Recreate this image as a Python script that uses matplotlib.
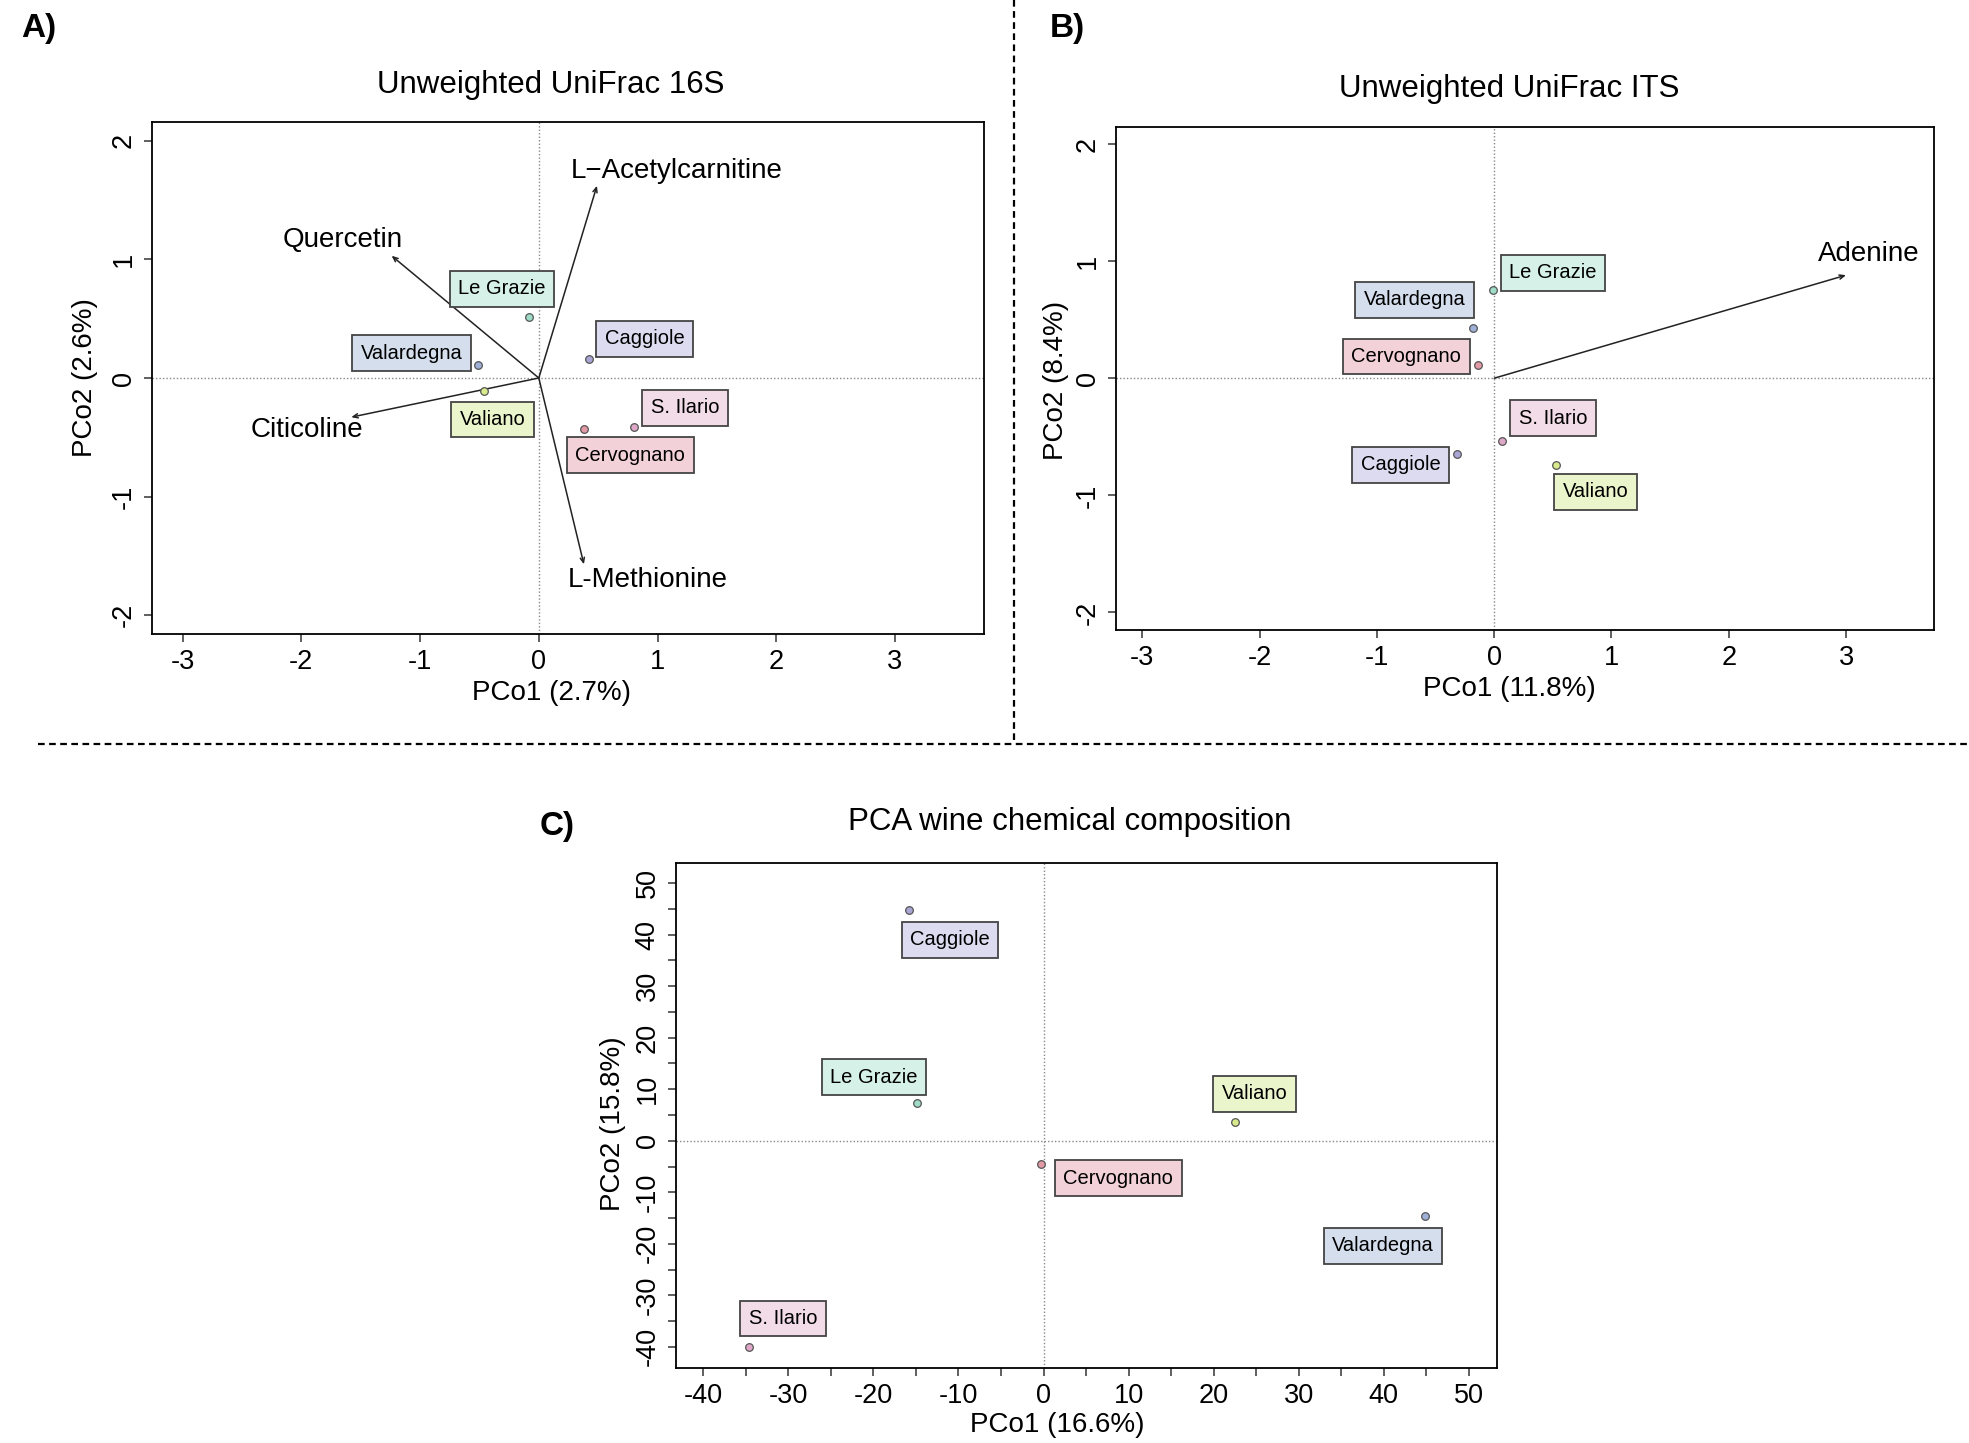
import matplotlib
matplotlib.use("Agg")
import matplotlib.pyplot as plt
from matplotlib.lines import Line2D

plt.rcParams['font.family'] = ['Liberation Sans', 'DejaVu Sans']
plt.rcParams['axes.unicode_minus'] = False

# ---------------- data ----------------
sites = ["Le Grazie", "Valardegna", "Valiano", "Caggiole", "S. Ilario", "Cervognano"]
box_colors = ["#d6f2e8", "#d4deed", "#eaf5cc", "#dddbf0", "#f2dce8", "#f2d2d8"]
point_colors = ["#9fdcc8", "#9fb0d8", "#d7ea8c", "#a9a6d6", "#e0a8c8", "#e29aa6"]

# Panel A: Unweighted UniFrac 16S
a_x = [-0.08, -0.51, -0.46, 0.42, 0.80, 0.38]
a_y = [0.51, 0.11, -0.11, 0.16, -0.415, -0.43]
a_vec_names = ["L\u2212Acetylcarnitine", "Quercetin", "Citicoline", "L-Methionine"]
a_vec_x = [0.49, -1.24, -1.58, 0.38]
a_vec_y = [1.62, 1.03, -0.33, -1.57]

# Panel B: Unweighted UniFrac ITS
b_x = [-0.01, -0.185, 0.53, -0.32, 0.07, -0.14]
b_y = [0.753, 0.43, -0.74, -0.65, -0.54, 0.113]
b_vec_names = ["Adenine"]
b_vec_x = [3.0]
b_vec_y = [0.88]

# Panel C: PCA wine chemical composition
c_x = [-14.9, 44.8, 22.5, -15.8, -34.6, -0.3]
c_y = [7.24, -14.6, 3.58, 44.75, -39.95, -4.56]

# ---------------- layout (label placement offsets) ----------------
a_lab = [(-0.31, 0.75), (-1.07, 0.21), (-0.39, -0.35), (0.89, 0.33), (1.23, -0.25), (0.77, -0.65)]
a_vec_lab = [(1.16, 1.74), (-1.65, 1.16), (-1.95, -0.435), (0.92, -1.70)]
b_lab = [(0.50, 0.90), (-0.68, 0.67), (0.865, -0.97), (-0.80, -0.74), (0.50, -0.34), (-0.75, 0.185)]
b_vec_lab = [(3.19, 1.06)]
c_lab = [(-19.9, 12.3), (39.9, -20.4), (24.8, 9.1), (-11.0, 39.0), (-30.6, -34.5), (8.8, -7.3)]

W, H = 1969, 1443
fig = plt.figure(figsize=(W / 100, H / 100), dpi=100)


def px_axes(l, t, r, b):
    return fig.add_axes([l / W, 1 - b / H, (r - l) / W, (b - t) / H])


def style(ax, xlim, ylim, xticks, yticks, xminor=None, yminor=None):
    ax.set_xlim(*xlim)
    ax.set_ylim(*ylim)
    ax.set_xticks(xticks)
    ax.set_yticks(yticks)
    if xminor is not None:
        ax.set_xticks(xminor, minor=True)
    if yminor is not None:
        ax.set_yticks(yminor, minor=True)
    ax.tick_params(which='both', direction='out', length=6, width=1.2, color='#444444',
                   labelsize=19.5, pad=5)
    for lab in ax.get_yticklabels():
        lab.set_rotation(90)
        lab.set_va('center')
    for s in ax.spines.values():
        s.set_linewidth(1.3)
        s.set_color('black')
    ax.axhline(0, color='#888888', lw=1.0, ls=(0, (1, 1.5)), zorder=1)
    ax.axvline(0, color='#888888', lw=1.0, ls=(0, (1, 1.5)), zorder=1)


def sites_plot(ax, xs, ys, labs):
    for name, x, y, (lx, ly), bc, pc in zip(sites, xs, ys, labs, box_colors, point_colors):
        ax.plot(x, y, 'o', ms=5.5, mfc=pc, mec='#555555', mew=0.9, zorder=4)
        ax.text(lx, ly, name, fontsize=14.5, ha='center', va='center', zorder=5,
                bbox=dict(boxstyle='square,pad=0.42', fc=bc, ec='#444444', lw=1.3))


def vectors(ax, names, vx, vy, labs):
    for n, x, y, (lx, ly) in zip(names, vx, vy, labs):
        ax.annotate('', xy=(x, y), xytext=(0, 0),
                    arrowprops=dict(arrowstyle='->,head_length=0.35,head_width=0.15',
                                    lw=1.1, color='#222222', shrinkA=0, shrinkB=0), zorder=3)
        ax.text(lx, ly, n, fontsize=20, ha='center', va='center', zorder=6)


# Panel A
axA = px_axes(152, 122, 984, 634)
style(axA, (-3.258, 3.75), (-2.157, 2.157), [-3, -2, -1, 0, 1, 2, 3], [-2, -1, 0, 1, 2])
vectors(axA, a_vec_names, a_vec_x, a_vec_y, a_vec_lab)
sites_plot(axA, a_x, a_y, a_lab)

# Panel B
axB = px_axes(1116, 127, 1934, 630)
style(axB, (-3.225, 3.75), (-2.15, 2.145), [-3, -2, -1, 0, 1, 2, 3], [-2, -1, 0, 1, 2])
vectors(axB, b_vec_names, b_vec_x, b_vec_y, b_vec_lab)
sites_plot(axB, b_x, b_y, b_lab)

# Panel C
axC = px_axes(676, 863, 1497, 1368)
cx_major = list(range(-40, 51, 10))
cy_major = list(range(-40, 51, 10))
style(axC, (-43.2, 53.3), (-44.1, 53.9), cx_major, cy_major,
      xminor=list(range(-35, 50, 10)), yminor=list(range(-35, 50, 10)))
sites_plot(axC, c_x, c_y, c_lab)

# Titles, axis labels, panel letters
fig.text(551 / W, 1 - 85 / H, "Unweighted UniFrac 16S", fontsize=22.5, ha='center', va='center')
fig.text(1509 / W, 1 - 89 / H, "Unweighted UniFrac ITS", fontsize=22.5, ha='center', va='center')
fig.text(1070 / W, 1 - 822 / H, "PCA wine chemical composition", fontsize=22.5, ha='center', va='center')

fig.text(551 / W, 1 - 693 / H, "PCo1 (2.7%)", fontsize=20, ha='center', va='center')
fig.text(85 / W, 1 - 378 / H, "PCo2 (2.6%)", fontsize=20, ha='center', va='center', rotation=90)
fig.text(1509 / W, 1 - 689 / H, "PCo1 (11.8%)", fontsize=20, ha='center', va='center')
fig.text(1056 / W, 1 - 380 / H, "PCo2 (8.4%)", fontsize=20, ha='center', va='center', rotation=90)
fig.text(1057 / W, 1 - 1425 / H, "PCo1 (16.6%)", fontsize=20, ha='center', va='center')
fig.text(613 / W, 1 - 1124 / H, "PCo2 (15.8%)", fontsize=20, ha='center', va='center', rotation=90)

fig.text(21 / W, 1 - 28 / H, "A)", fontsize=24, fontweight='bold', ha='left', va='center')
fig.text(1050 / W, 1 - 28 / H, "B)", fontsize=24, fontweight='bold', ha='left', va='center')
fig.text(540 / W, 1 - 826 / H, "C)", fontsize=24, fontweight='bold', ha='left', va='center')

# Separators
fig.add_artist(Line2D([1014 / W, 1014 / W], [1.0, 1 - 741 / H], transform=fig.transFigure,
                      color='black', lw=1.6, ls=(0, (3, 2))))
fig.add_artist(Line2D([38 / W, 1.0], [1 - 744 / H, 1 - 744 / H], transform=fig.transFigure,
                      color='black', lw=1.6, ls=(0, (3, 2))))

fig.savefig("out.png", dpi=100)
